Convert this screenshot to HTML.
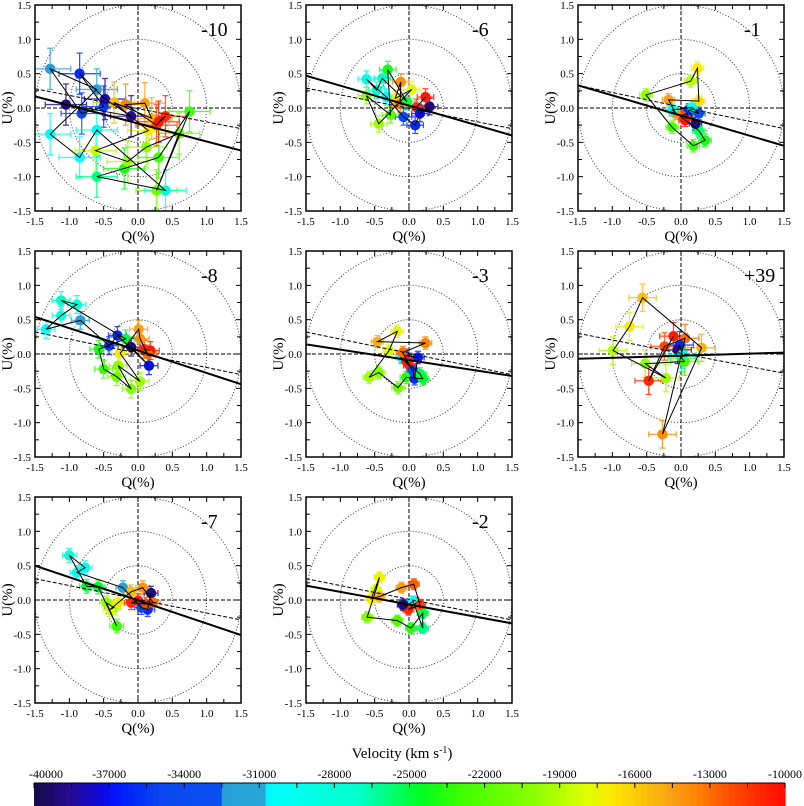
<!DOCTYPE html>
<html><head><meta charset="utf-8"><style>
body{margin:0;background:#fff;width:804px;height:806px;overflow:hidden}
svg{display:block;font-family:"Liberation Serif",serif}
</style></head><body>
<svg id="chart" width="804" height="806" viewBox="0 0 804 806"></svg>
<script>
const panelLabels=["-10","-6","-1","-8","-3","+39","-7","-2"];
const tickValues=[-1.5,-1.0,-0.5,0.0,0.5,1.0,1.5];
const tickText=["-1.5","-1.0","-0.5","0.0","0.5","1.0","1.5"];
const cbTicks=[-40000,-37000,-34000,-31000,-28000,-25000,-22000,-19000,-16000,-13000,-10000];
const errs=[0.3,0.12,0.09,0.13,0.09,0.2,0.1,0.08];
const solidFit=[[0.17,-0.62],[0.47,-0.4],[0.33,-0.55],[0.54,-0.44],[0.14,-0.32],[-0.07,0.02],[0.5,-0.51],[0.21,-0.34]];
const dashFit=[[0.28,-0.3],[0.29,-0.3],[0.33,-0.3],[0.32,-0.3],[0.32,-0.3],[0.3,-0.28],[0.31,-0.29],[0.31,-0.29]];
const q1=[-1.05,-0.85,-1.28,-0.6,-0.82,-0.5,-0.48,-1.28,-0.85,-0.6,-0.6,-0.62,-0.2,-0.15,0.12,0.27,0.4,0.3,0.6,0.75,0.15,-0.1,0.27,0.4,0.2,-0.35,-0.18,0.1,0.3];
const u1=[0.05,0.5,0.57,0.27,-0.08,0.02,0.13,-0.38,-0.72,-0.32,-1.0,-0.62,-0.88,-0.78,-0.57,-1.2,-1.2,-0.72,-0.37,-0.05,-0.33,-0.12,-0.25,-0.12,-0.15,0.08,0.05,0.07,-0.2];
const v1=[-39000,-36000,-32000,-31500,-35000,-35500,-38000,-30500,-30000,-30000,-26000,-18500,-24000,-19500,-20000,-21000,-28000,-23000,-21000,-23000,-17000,-38500,-12000,-11000,-15000,-15500,-13500,-14500,-10500];
const q2=[-0.31,-0.62,-0.39,-0.62,-0.44,-0.27,-0.12,0.04,0.24,0.3,0.09,-0.08,-0.2,-0.33,-0.13,0.11,0.16,-0.03,-0.47];
const u2=[0.56,0.42,0.43,0.18,-0.23,-0.1,0.38,0.27,0.16,0.02,-0.25,-0.13,0.14,0.16,0.06,0.01,-0.08,0.09,0.26];
const v2=[-24000,-29000,-27000,-20000,-19500,-22000,-14000,-18000,-10500,-39000,-36000,-34000,-17000,-30000,-13000,-11000,-37000,-25000,-28000];
const q3=[0.24,0.14,0.26,-0.18,-0.51,0.18,0.35,0.26,-0.13,0.09,0.21,0.11,0.16,0.01,-0.08,0.26,0.06,-0.13];
const u3=[0.58,0.39,0.1,0.12,0.19,-0.55,-0.47,-0.33,-0.28,-0.08,-0.23,-0.03,0.01,-0.11,-0.08,-0.08,-0.18,-0.03];
const v3=[-17000,-19000,-16500,-14500,-20000,-23000,-24000,-25500,-22500,-11000,-39000,-36000,-30000,-12000,-14000,-34000,-10500,-29000];
const q4=[-1.12,-0.89,-1.12,-1.34,-0.84,-0.57,-0.5,-0.31,-0.1,0.03,-0.29,-0.3,-0.18,0.01,0.03,-0.26,0.16,-0.42,0.09,0.18,0.14,-0.1];
const u4=[0.78,0.72,0.56,0.36,0.49,0.07,-0.22,-0.33,-0.51,-0.4,-0.17,0.27,0.22,0.36,0.22,0.01,-0.17,0.12,0.07,0.05,0,0.1];
const v4=[-27000,-28000,-29000,-30500,-32000,-24000,-23000,-21000,-20500,-19500,-20000,-36000,-25000,-14500,-14000,-17000,-37000,-35500,-11000,-10500,-13000,-39000];
const q5=[-0.17,-0.46,-0.29,-0.58,-0.44,-0.16,-0.04,0.08,0.2,0.24,0.13,0.01,-0.11,-0.06,-0.04,0.06,-0.09,0.16];
const u5=[0.33,0.18,0.05,-0.34,-0.27,-0.49,-0.34,-0.36,-0.36,0.16,-0.05,-0.17,-0.05,-0.02,-0.1,-0.24,0.02,-0.29];
const v5=[-17500,-15000,-18000,-19500,-20500,-21000,-23500,-36000,-24500,-13500,-36500,-11000,-30500,-39000,-10500,-34000,-13000,-25000];
const q6=[-0.56,-0.75,-0.99,-0.52,-0.47,-0.22,-0.27,0.3,-0.11,-0.24,0.06,-0.02,0.01,0.05,-0.05,0.02];
const u6=[0.82,0.4,0.05,-0.14,-0.39,-0.35,-1.17,0.09,0.26,0.11,0.23,0.13,-0.06,-0.11,0.06,-0.01];
const v6=[-15500,-17000,-19000,-20000,-11000,-19500,-14000,-15000,-10500,-12000,-13000,-36000,-24000,-23000,-38500,-29000];
const q7=[-1.0,-0.77,-0.89,-0.75,-0.58,-0.46,-0.31,-0.35,-0.41,-0.29,-0.22,-0.1,0.07,0.19,0.14,-0.1,0,0.22,0.05,0.12];
const u7=[0.65,0.47,0.4,0.2,0.19,-0.04,-0.38,-0.11,-0.14,-0.04,0.18,0.12,0.18,0.1,-0.14,-0.04,-0.01,-0.04,-0.11,-0.06];
const v7=[-28000,-29500,-30000,-25000,-24500,-20000,-23000,-19500,-18000,-17000,-32000,-15500,-14000,-39000,-36000,-11000,-10500,-13000,-35000,-12000];
const q8=[-0.43,-0.48,-0.55,-0.43,-0.11,0.07,-0.61,-0.17,0.03,0.2,0.2,-0.04,-0.01,0.11,0.06,0.16,-0.09];
const u8=[0.33,0.15,0.02,0.05,0.18,0.23,-0.25,-0.3,-0.41,-0.41,-0.19,-0.09,-0.14,-0.04,-0.02,-0.07,-0.07];
const v8=[-17500,-18000,-17000,-15000,-14500,-12500,-20500,-22500,-23500,-26000,-25000,-36000,-11000,-10500,-30000,-12000,-39000];
const allQ=[q1,q2,q3,q4,q5,q6,q7,q8],allU=[u1,u2,u3,u4,u5,u6,u7,u8],allV=[v1,v2,v3,v4,v5,v6,v7,v8];

const NS="http://www.w3.org/2000/svg";
const svg=document.getElementById('chart');
function mk(tag,at,parent){const e=document.createElementNS(NS,tag);for(const k in at)e.setAttribute(k,at[k]);(parent||svg).appendChild(e);return e;}
const stops=[[-40000,[20,10,70]],[-38500,[40,10,150]],[-37200,[10,10,230]],[-36800,[0,20,255]],[-35000,[10,70,240]],[-32600,[10,80,240]],[-32400,[40,160,215]],[-30800,[40,165,215]],[-30600,[0,255,255]],[-27000,[0,255,200]],[-24500,[0,255,30]],[-23000,[60,255,0]],[-20000,[140,255,0]],[-18000,[220,255,0]],[-16800,[255,230,0]],[-15500,[250,190,10]],[-14500,[248,160,20]],[-13500,[255,130,0]],[-12000,[255,70,0]],[-10000,[255,10,0]]];
function color(v){v=Math.max(-40000,Math.min(-10000,v));for(let i=0;i<stops.length-1;i++){const a=stops[i],b=stops[i+1];if(v<=b[0]){const t=(v-a[0])/(b[0]-a[0]);const c=a[1].map((x,j)=>Math.round(x+(b[1][j]-x)*t));return `rgb(${c[0]},${c[1]},${c[2]})`;}}return 'rgb(255,0,0)';}

const colsX=[35,306,578],rowsY=[5,251,497],W=206,H=206;
for(let p=0;p<8;p++){
  const x0=colsX[p%3],y0=rowsY[Math.floor(p/3)];
  const sx=q=>x0+(q+1.5)/3*W, sy=u=>y0+(1.5-u)/3*H;
  const g=mk('g',{});
  
  
  const clip=mk('clipPath',{id:'c'+p},g);mk('rect',{x:x0,y:y0,width:W,height:H},clip);
  const inner=mk('g',{'clip-path':`url(#c${p})`},g);
  [0.5,1.0,1.5].forEach(r=>{const c=mk('circle',{cx:sx(0),cy:sy(0),r:r/3*W,fill:'none',stroke:'#333','stroke-width':1,'stroke-dasharray':'1 2'},inner);});
  mk('line',{x1:sx(0),y1:y0,x2:sx(0),y2:y0+H,stroke:'#000','stroke-width':1,'stroke-dasharray':'4 2'},inner);
  mk('line',{x1:x0,y1:sy(0),x2:x0+W,y2:sy(0),stroke:'#000','stroke-width':1,'stroke-dasharray':'4 2'},inner);
  const Q=allQ[p],U=allU[p],V=allV[p],e=errs[p];
  const idx=Q.map((_,i)=>i);
  idx.forEach(i=>{const c=color(V[i]);const eb=mk('g',{stroke:c,'stroke-width':1.3,opacity:0.8},inner);
    
    mk('line',{x1:sx(Q[i]-e),y1:sy(U[i]),x2:sx(Q[i]+e),y2:sy(U[i])},eb);
    mk('line',{x1:sx(Q[i]),y1:sy(U[i]-e),x2:sx(Q[i]),y2:sy(U[i]+e)},eb);
    [sx(Q[i]-e),sx(Q[i]+e)].forEach(xx=>mk('line',{x1:xx,y1:sy(U[i])-3,x2:xx,y2:sy(U[i])+3},eb));
    [sy(U[i]-e),sy(U[i]+e)].forEach(yy=>mk('line',{x1:sx(Q[i])-3,y1:yy,x2:sx(Q[i])+3,y2:yy},eb));
  });
  const ord=idx.slice().sort((a,b)=>V[a]-V[b]);
  idx.forEach(i=>{const m=mk('circle',{cx:sx(Q[i]),cy:sy(U[i]),r:5.2,fill:color(V[i])},inner);});
  const pl=mk('polyline',{points:ord.map(i=>sx(Q[i])+','+sy(U[i])).join(' '),fill:'none',stroke:'#000','stroke-width':1},inner);
  
  const sl=mk('line',{x1:sx(-1.5),y1:sy(solidFit[p][0]),x2:sx(1.5),y2:sy(solidFit[p][1]),stroke:'#000','stroke-width':2},inner);
  
  const dl=mk('line',{x1:sx(-1.5),y1:sy(dashFit[p][0]),x2:sx(1.5),y2:sy(dashFit[p][1]),stroke:'#000','stroke-width':1,'stroke-dasharray':'4 2'},inner);
  
  mk('rect',{x:x0,y:y0,width:W,height:H,fill:'none',stroke:'#000','stroke-width':1.5},g);
  for(let k=0;k<=12;k++){const t=-1.5+k*0.25,L=(k%2==0)?5:4;
    mk('line',{x1:sx(t),y1:y0,x2:sx(t),y2:y0+L,stroke:'#000'},g);mk('line',{x1:sx(t),y1:y0+H,x2:sx(t),y2:y0+H-L,stroke:'#000'},g);
    mk('line',{x1:x0,y1:sy(t),x2:x0+L,y2:sy(t),stroke:'#000'},g);mk('line',{x1:x0+W,y1:sy(t),x2:x0+W-L,y2:sy(t),stroke:'#000'},g);}
  tickValues.forEach((t,k)=>{
    const a=mk('text',{x:sx(t),y:y0+H+14,'text-anchor':'middle','font-size':11},g);a.textContent=tickText[k];
    const b=mk('text',{x:x0-4,y:sy(t)+4,'text-anchor':'end','font-size':11},g);b.textContent=tickText[k];});
  const xt=mk('text',{x:x0+W/2,y:y0+H+30,'text-anchor':'middle','font-size':15},g);xt.textContent='Q(%)';
  const yt=mk('text',{x:x0-23,y:y0+H/2,'text-anchor':'middle','font-size':15,transform:`rotate(-90 ${x0-23} ${y0+H/2})`},g);yt.textContent='U(%)';
  const pt=mk('text',{x:x0+166,y:y0+31,'font-size':20},g);pt.textContent=panelLabels[p];
}
// colorbar
const cbx0=34,cbx1=785,cby=783;
const cs=v=>cbx0+(v+40000)/30000*(cbx1-cbx0);
const cb=mk('g',{});
for(let v=-40000;v<-10000;v+=250){mk('rect',{x:cs(v),y:cby,width:cs(v+250)-cs(v)+0.6,height:23,fill:color(v+125)},cb);}
for(let v=-40000;v<=-10000;v+=1500){mk('line',{x1:cs(v),y1:cby,x2:cs(v),y2:cby+5,stroke:'#000'},cb);}
mk('line',{x1:cbx0,y1:cby,x2:cbx1,y2:cby,stroke:'#000'},cb);
cbTicks.forEach(v=>{const t=mk('text',{x:Math.min(Math.max(cs(v),cbx0+12),cbx1),y:778,'text-anchor':'middle','font-size':12},cb);t.textContent=String(v);});
const ct=mk('text',{x:402,y:758,'text-anchor':'middle','font-size':15},cb);
ct.innerHTML='Velocity (km s<tspan dy="-5" font-size="10">-1</tspan><tspan dy="5">)</tspan>';
</script>
</body></html>
